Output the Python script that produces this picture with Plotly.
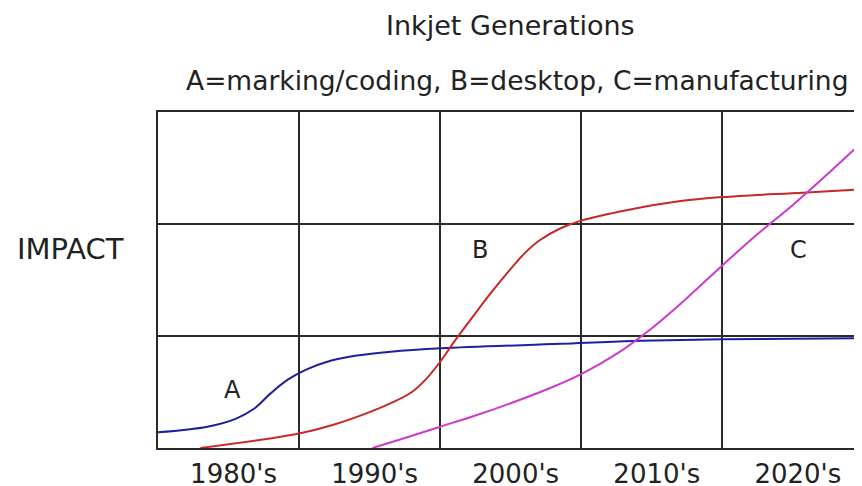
import plotly.graph_objects as go

# Decade tick labels (one per grid column)
decades = ["1980's", "1990's", "2000's", "2010's", "2020's"]
decade_pos = [0.5, 1.5, 2.5, 3.5, 4.5]

# Generation A: marking/coding (blue)
a_x = [0.0, 0.35, 0.55, 0.68, 0.80, 0.92, 1.05, 1.2, 1.41, 1.65, 2.01, 2.85, 3.37, 4.0, 4.99]
a_y = [0.14, 0.19, 0.26, 0.35, 0.49, 0.61, 0.70, 0.77, 0.825, 0.86, 0.89, 0.93, 0.955, 0.97, 0.98]

# Generation B: desktop (red)
b_x = [0.30, 1.0, 1.25, 1.5, 1.65, 1.8, 1.9, 2.0, 2.1, 2.2, 2.35, 2.5, 2.6, 2.7, 2.85, 3.0, 3.33, 3.68, 4.0, 4.57, 4.99]
b_y = [0.0, 0.13, 0.21, 0.32, 0.40, 0.50, 0.615, 0.77, 0.95, 1.12, 1.37, 1.60, 1.74, 1.85, 1.96, 2.03, 2.125, 2.20, 2.24, 2.28, 2.31]

# Generation C: manufacturing (magenta)
c_x = [1.52, 1.75, 2.0, 2.25, 2.5, 2.75, 3.0, 3.25, 3.5, 3.75, 4.0, 4.25, 4.5, 4.75, 4.99]
c_y = [0.0, 0.09, 0.19, 0.29, 0.40, 0.52, 0.66, 0.84, 1.07, 1.34, 1.63, 1.91, 2.17, 2.45, 2.73]

# Curve labels
labels = ["A", "B", "C"]
label_x = [0.53, 2.28, 4.54]
label_y = [0.52, 1.77, 1.77]

FONT = "DejaVu Sans"
TXT = "#222222"
GRID = "#2a2a2a"

fig = go.Figure()
fig.add_trace(go.Scatter(x=a_x, y=a_y, mode="lines", line=dict(color="#1f1f9e", width=2, shape="spline"),
                         hoverinfo="skip"))
fig.add_trace(go.Scatter(x=b_x, y=b_y, mode="lines", line=dict(color="#c82828", width=2, shape="spline"),
                         hoverinfo="skip"))
fig.add_trace(go.Scatter(x=c_x, y=c_y, mode="lines", line=dict(color="#cc3acc", width=2, shape="spline"),
                         hoverinfo="skip"))

for t, lx, ly in zip(labels, label_x, label_y):
    fig.add_annotation(x=lx, y=ly, text=t, showarrow=False, xanchor="center", yanchor="middle",
                       font=dict(family=FONT, size=24, color=TXT))

fig.add_annotation(xref="paper", yref="y", x=-0.125, y=1.78, text="IMPACT", showarrow=False,
                   xanchor="center", yanchor="middle", font=dict(family=FONT, size=29, color=TXT))
fig.add_annotation(xref="paper", yref="paper", x=0.5, y=1.258, text="Inkjet Generations", showarrow=False,
                   xanchor="center", yanchor="middle", font=dict(family=FONT, size=27, color=TXT))
fig.add_annotation(xref="paper", yref="paper", x=0.51, y=1.095,
                   text="A=marking/coding, B=desktop, C=manufacturing", showarrow=False,
                   xanchor="center", yanchor="middle", font=dict(family=FONT, size=26.5, color=TXT))

# The page body adds an 8px margin, so the figure is 8px smaller than the window
fig.update_layout(
    width=854, height=478,
    margin=dict(l=150, r=0, t=104, b=38),
    paper_bgcolor="white", plot_bgcolor="white",
    showlegend=False,
    xaxis=dict(range=[0, 4.99], tickvals=decade_pos, ticktext=decades, showgrid=False, zeroline=False,
               showline=True, linecolor=GRID, linewidth=2, mirror=True, ticks="", automargin=False,
               ticklabelshift=5, ticklabelstandoff=2,
               tickfont=dict(family=FONT, size=26, color=TXT),
               minor=dict(tickvals=[1, 2, 3, 4], showgrid=True, gridcolor=GRID, gridwidth=2, ticks=""),
               fixedrange=True),
    yaxis=dict(range=[0, 3], tickvals=[1, 2], showticklabels=False, showgrid=True, gridcolor=GRID,
               gridwidth=2, zeroline=False, showline=True, linecolor=GRID, linewidth=2, ticks="",
               automargin=False, fixedrange=True),
)

fig.write_html("out.html")
